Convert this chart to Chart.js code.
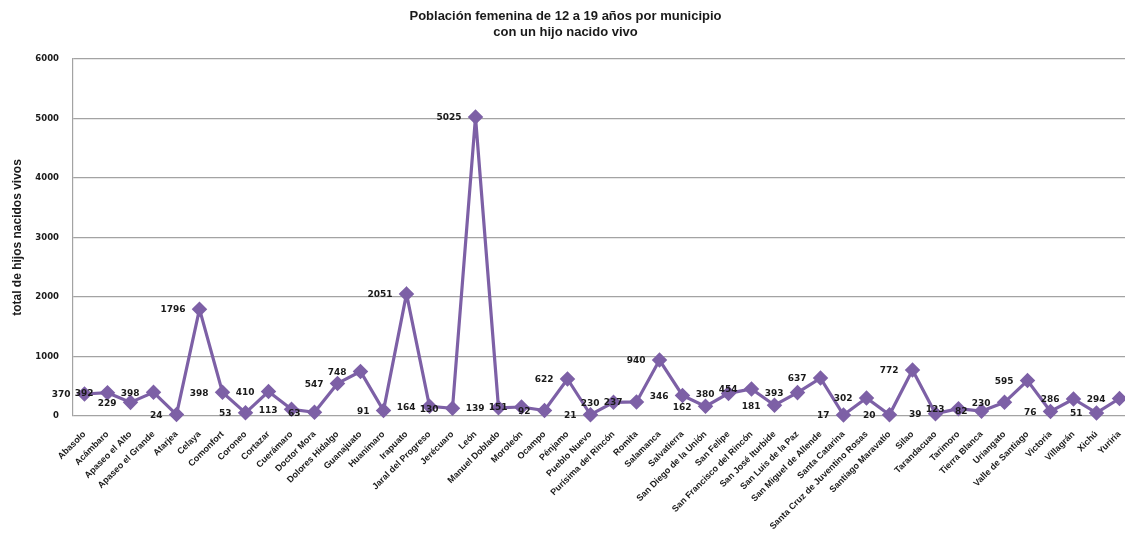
<!DOCTYPE html>
<html>
<head>
<meta charset="utf-8">
<script src="https://cdn.jsdelivr.net/npm/chart.js@4.4.1/dist/chart.umd.min.js"></script>
<style>
  html, body { margin: 0; padding: 0; background: #ffffff; overflow: hidden; }
  #wrap { position: relative; width: 1131px; height: 533px; }
</style>
</head>
<body>
<div id="wrap"><canvas id="c"></canvas></div>
<script>
const municipios = [
  "Abasolo", "Acámbaro", "Apaseo el Alto", "Apaseo el Grande", "Atarjea", "Celaya",
  "Comonfort", "Coroneo", "Cortazar", "Cuerámaro", "Doctor Mora", "Dolores Hidalgo",
  "Guanajuato", "Huanímaro", "Irapuato", "Jaral del Progreso", "Jerécuaro", "León",
  "Manuel Doblado", "Moroleón", "Ocampo", "Pénjamo", "Pueblo Nuevo", "Purísima del Rincón",
  "Romita", "Salamanca", "Salvatierra", "San Diego de la Unión", "San Felipe",
  "San Francisco del Rincón", "San José Iturbide", "San Luis de la Paz", "San Miguel de Allende",
  "Santa Catarina", "Santa Cruz de Juventino Rosas", "Santiago Maravatío", "Silao",
  "Tarandacuao", "Tarimoro", "Tierra Blanca", "Uriangato", "Valle de Santiago", "Victoria",
  "Villagrán", "Xichú", "Yuriria"
];
const hijosNacidosVivos = [
  370, 392, 229, 398, 24, 1796,
  398, 53, 410, 113, 63, 547,
  748, 91, 2051, 164, 130, 5025,
  139, 151, 92, 622, 21, 230,
  237, 940, 346, 162, 380,
  454, 181, 393, 637,
  17, 302, 20, 772,
  39, 123, 82, 230, 595, 76,
  286, 51, 294
];
const yTicks = [0, 1000, 2000, 3000, 4000, 5000, 6000];
const tituloLineas = ["Población femenina de 12 a 19 años por municipio", "con un hijo nacido vivo"];
const tituloEjeY = "total de hijos nacidos vivos";

const lineColor = "#7d60a6";

const labelPlugin = {
  id: "leftLabels",
  afterDatasetsDraw(chart) {
    const ctx = chart.ctx;
    const meta = chart.getDatasetMeta(0);
    ctx.save();
    ctx.font = "bold 9px 'DejaVu Sans'";
    ctx.fillStyle = "#1a1a1a";
    ctx.textAlign = "right";
    ctx.textBaseline = "middle";
    meta.data.forEach((pt, i) => {
      ctx.fillText(String(chart.data.datasets[0].data[i]), pt.x - 14, pt.y + 1);
    });
    ctx.restore();
  }
};

new Chart(document.getElementById("c"), {
  type: "line",
  data: {
    labels: municipios,
    datasets: [{
      data: hijosNacidosVivos,
      borderColor: lineColor,
      backgroundColor: lineColor,
      borderWidth: 3.2,
      pointStyle: "rectRot",
      pointRadius: 5.5,
      pointHoverRadius: 5.5,
      pointBackgroundColor: lineColor,
      pointBorderColor: lineColor,
      tension: 0,
      fill: false,
      clip: false
    }]
  },
  options: {
    responsive: true,
    maintainAspectRatio: false,
    animation: false,
    events: [],
    layout: { autoPadding: false, padding: { left: 0, right: 0, top: 0, bottom: 0 } },
    plugins: {
      legend: { display: false },
      tooltip: { enabled: false },
      title: {
        display: true,
        text: tituloLineas,
        color: "#1a1a1a",
        font: { family: "'Liberation Sans', Arial, sans-serif", size: 13, weight: "bold", lineHeight: 1.2 },
        padding: { top: 9, bottom: 18.8 }
      }
    },
    scales: {
      x: {
        type: "category",
        offset: true,
        grid: { display: false, drawTicks: false },
        border: { display: false },
        ticks: {
          autoSkip: false,
          maxRotation: 45,
          minRotation: 45,
          padding: 13,
          color: "#1a1a1a",
          font: { family: "'Liberation Sans', Arial, sans-serif", size: 9, weight: "bold" }
        },
        afterFit(scale) {
          scale.height = 117;
          scale.paddingLeft = 0;
          scale.paddingRight = 0;
        }
      },
      y: {
        min: 0,
        max: 6000,
        afterBuildTicks(scale) { scale.ticks = yTicks.map(v => ({ value: v })); },
        grid: { color: "#a3a3a3", lineWidth: 1.2, drawTicks: false },
        border: { display: true, color: "#a3a3a3", width: 1.2 },
        ticks: {
          padding: 14,
          color: "#1a1a1a",
          font: { family: "'DejaVu Sans', sans-serif", size: 8.5, weight: "bold" },
          callback: (v) => String(v)
        },
        title: {
          display: true,
          text: tituloEjeY,
          color: "#1a1a1a",
          font: { family: "'Liberation Sans', Arial, sans-serif", size: 12, weight: "bold" },
          padding: { top: 10, bottom: 0 }
        },
        afterFit(scale) { scale.width = 73; }
      }
    }
  },
  plugins: [labelPlugin]
});
</script>
</body>
</html>
